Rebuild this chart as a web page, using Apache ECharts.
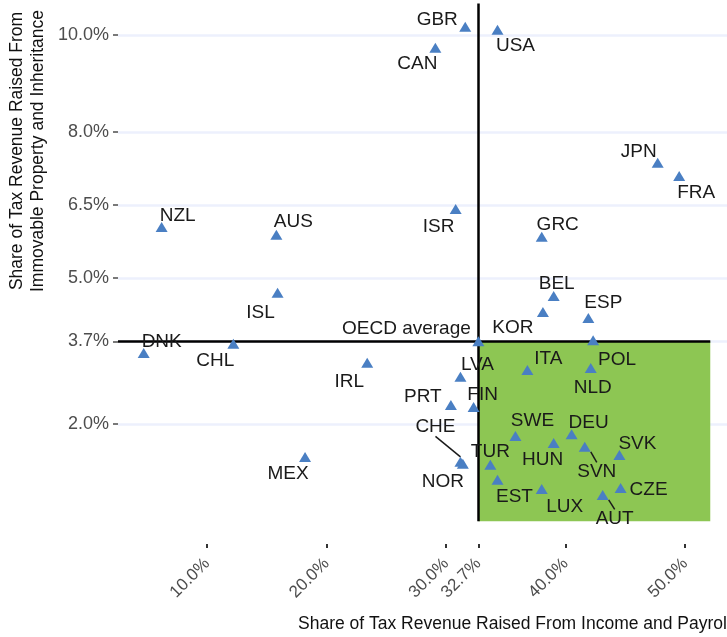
<!DOCTYPE html>
<html>
<head>
<meta charset="utf-8">
<script src="https://cdn.jsdelivr.net/npm/echarts@6/dist/echarts.min.js"></script>
<style>
  html, body { margin: 0; padding: 0; background: #fff; }
  #chart { width: 727px; height: 637px; }
</style>
</head>
<body>
<div id="chart"></div>
<script>
// country codes, income+payroll share (x) and property+inheritance share (y), in %
const countries = ['GBR', 'USA', 'CAN', 'ISR', 'AUS', 'ISL', 'NZL', 'JPN', 'FRA', 'GRC',
  'BEL', 'KOR', 'ESP', 'OECD average', 'POL', 'ITA', 'NLD', 'LVA', 'PRT', 'FIN',
  'SWE', 'DEU', 'HUN', 'SVN', 'SVK', 'CHE', 'NOR', 'TUR', 'EST', 'LUX',
  'CZE', 'AUT', 'DNK', 'CHL', 'IRL', 'MEX'];
const incomeShare = [31.6, 34.3, 29.1, 30.8, 15.8, 15.9, 6.2, 47.7, 49.5, 38.0,
  39.0, 38.1, 41.9, 32.7, 42.3, 36.8, 42.1, 31.2, 30.4, 32.3,
  35.8, 40.5, 39.0, 41.6, 44.5, 31.2, 31.4, 33.7, 34.3, 38.0,
  44.6, 43.1, 4.7, 12.2, 23.4, 18.2];
const propertyShare = [10.17, 10.11, 9.74, 6.42, 5.89, 4.70, 6.05, 7.37, 7.10, 5.85,
  4.63, 4.30, 4.18, 3.7, 3.72, 3.11, 3.15, 2.97, 2.39, 2.35,
  1.75, 1.79, 1.61, 1.53, 1.36, 1.22, 1.18, 1.16, 0.85, 0.66,
  0.68, 0.54, 3.46, 3.65, 3.26, 1.32];

// OECD average reference lines
const oecdIncome = 32.7;
const oecdProperty = 3.7;

// axis ticks
const xTicks = [10, 20, 30, 32.7, 40, 50];
const yTicks = [2, 3.7, 5, 6.5, 8, 10];

// plot ranges
const xMin = 2.55, xMax = 53.5, xEnd = 52.1;
const yMin = -0.47, yMax = 10.72, yTop = 10.65, yBottom = 0;

// where each text label sits relative to its triangle (px), like ggrepel did
const labelShift = {
  GBR: [-28, -7], USA: [18, 16], CAN: [-18, 16], ISR: [-17, 18], AUS: [17, -13],
  ISL: [-17, 20], NZL: [16, -11], JPN: [-19, -11], FRA: [17, 17], GRC: [16, -12],
  BEL: [3, -12], KOR: [-30, 16], ESP: [15, -15], 'OECD average': [-72, -13],
  POL: [24, 19], ITA: [21, -11], NLD: [2, 20], LVA: [17, -12], PRT: [-28, -8],
  FIN: [9, -12], SWE: [17, -15], DEU: [17, -11], HUN: [-11, 17], SVN: [12, 25],
  SVK: [18, -11], CHE: [-25, -35], NOR: [-20, 18], TUR: [0, -13], EST: [17, 17],
  LUX: [23, 18], CZE: [28, 2], AUT: [12, 24], DNK: [18, -11], CHL: [-18, 17],
  IRL: [-18, 19], MEX: [-17, 17]
};
const withLeader = ['CHE', 'SVN', 'AUT'];

const font = 'Liberation Sans, Arial, Helvetica, sans-serif';
const pct = v => v.toFixed(1) + '%';

const points = countries.map((c, i) => {
  const item = { name: c, value: [incomeShare[i], propertyShare[i]] };
  if (withLeader.indexOf(c) >= 0) {
    item.labelLine = { show: true, lineStyle: { color: '#1a1a1a', width: 1.5 } };
  }
  return item;
});

const chart = echarts.init(document.getElementById('chart'));
chart.setOption({
  animation: false,
  backgroundColor: '#fff',
  grid: { left: 118, right: 0, top: 0, bottom: 93 },
  xAxis: {
    type: 'value',
    min: xMin,
    max: xMax,
    splitLine: { show: false },
    axisLine: { show: false, onZero: false },
    axisTick: { show: true, customValues: xTicks, length: 4, lineStyle: { color: '#333', width: 2 } },
    axisLabel: {
      customValues: xTicks, rotate: 45, margin: 17,
      color: '#4d4d4d', fontSize: 17, fontFamily: font,
      formatter: pct
    }
  },
  yAxis: {
    type: 'value',
    min: yMin,
    max: yMax,
    splitLine: { show: false },
    axisLine: { show: false, onZero: false },
    axisTick: { show: true, customValues: yTicks, length: 5, lineStyle: { color: '#4d4d4d', width: 1.5 } },
    axisLabel: {
      customValues: yTicks, margin: 9,
      color: '#4d4d4d', fontSize: 18, fontFamily: font,
      formatter: pct
    }
  },
  graphic: [
    {
      type: 'text', x: 28, y: 151, rotation: Math.PI / 2,
      style: {
        text: 'Share of Tax Revenue Raised From\nImmovable Property and Inheritance',
        font: '17.5px ' + font, fill: '#111', lineHeight: 21,
        textAlign: 'center', textVerticalAlign: 'middle'
      }
    },
    {
      type: 'text', x: 298, y: 624,
      style: {
        text: 'Share of Tax Revenue Raised From Income and Payroll',
        font: '17.5px ' + font, fill: '#111',
        textAlign: 'left', textVerticalAlign: 'middle'
      }
    }
  ],
  series: [
    {
      // gridlines
      type: 'scatter', data: [], z: 1, silent: true,
      markLine: {
        silent: true, symbol: 'none', label: { show: false }, z: 1,
        lineStyle: { color: '#edf0fd', width: 2.5, type: 'solid' },
        data: yTicks.map(v => ({ yAxis: v }))
      }
    },
    {
      // green quadrant
      type: 'scatter', data: [], z: 2, silent: true,
      markArea: {
        silent: true, z: 2,
        itemStyle: { color: '#8dc653', opacity: 1 },
        data: [[{ xAxis: oecdIncome, yAxis: yBottom }, { xAxis: xEnd, yAxis: oecdProperty }]]
      }
    },
    {
      // OECD average lines
      type: 'scatter', data: [], z: 3, silent: true,
      markLine: {
        silent: true, symbol: 'none', label: { show: false }, z: 3,
        lineStyle: { color: '#000', width: 2.5, type: 'solid' },
        data: [
          [{ coord: [oecdIncome, yBottom] }, { coord: [oecdIncome, yTop] }],
          [{ coord: [xMin, oecdProperty] }, { coord: [xEnd, oecdProperty] }]
        ]
      }
    },
    {
      type: 'scatter',
      z: 5,
      symbol: 'triangle',
      symbolSize: [12, 10],
      itemStyle: { color: '#4a7fc3', opacity: 1 },
      label: {
        show: true, position: 'inside', formatter: '{b}',
        color: '#1a1a1a', fontSize: 19, fontFamily: font,
        align: 'center', verticalAlign: 'middle'
      },
      labelLine: { show: false },
      labelLayout: function (p) {
        const s = labelShift[countries[p.dataIndex]] || [0, 0];
        return { dx: s[0], dy: s[1] };
      },
      data: points
    }
  ]
});
</script>
</body>
</html>
